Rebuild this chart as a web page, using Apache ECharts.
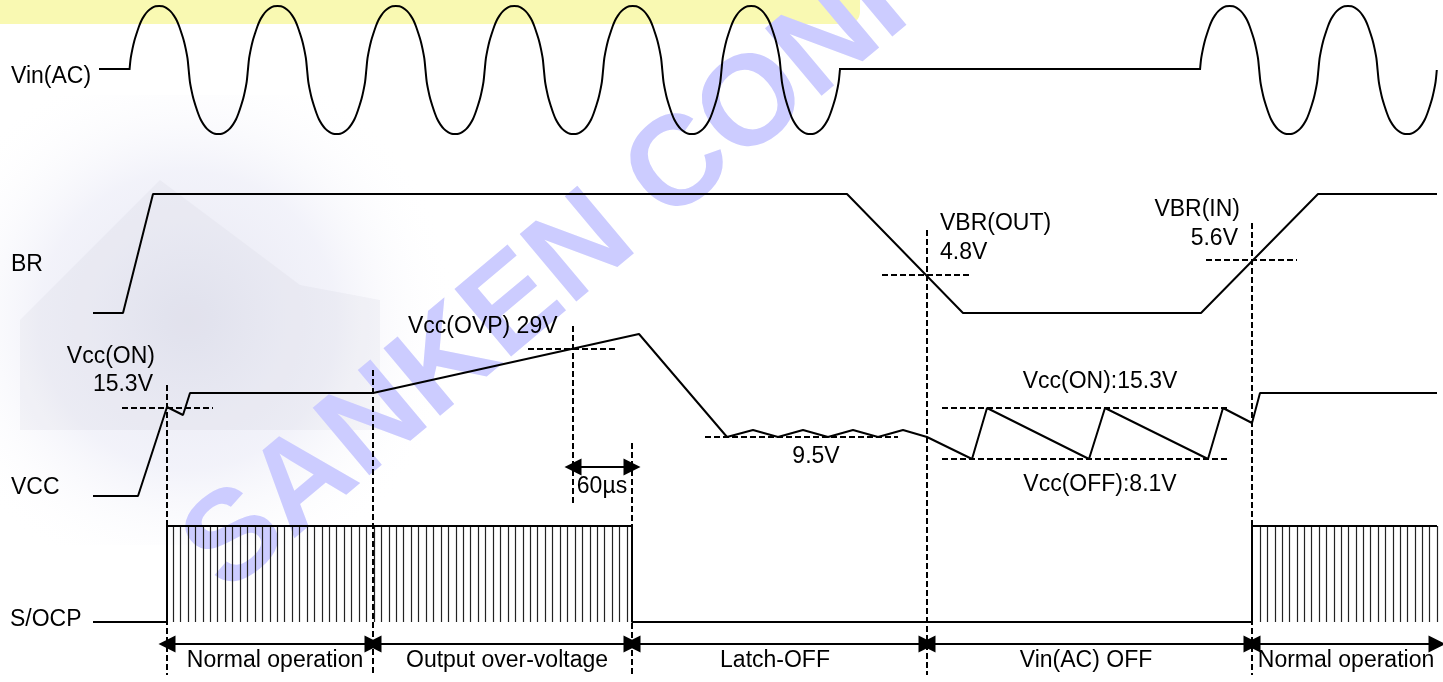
<!DOCTYPE html>
<html>
<head>
<meta charset="utf-8">
<script src="https://cdn.jsdelivr.net/npm/echarts@6/dist/echarts.min.js"></script>
<style>
  html, body { margin: 0; padding: 0; background: #fff; }
  #chart { width: 1443px; height: 682px; }
</style>
</head>
<body>
<div id="chart"></div>
<script>
// diagram units = picture px (x: time, y: level, top down)

// Vin(AC): bursts of sine (start, cycles), flat parts between
var acMid = 70, acAmp = 64, acPeriod = 118.4;
var acBursts = [[129.5, 6], [1200, 2]];
var acFlat = [[[99, 69], [129.5, 69]], [[839, 69], [1200, 69]]];
// half-cycle shape (fraction of half period, fraction of amplitude)
var acHalf = [[0, 0], [0.02, 0.18], [0.05, 0.33], [0.08, 0.45], [0.12, 0.57], [0.16, 0.68], [0.2, 0.77],
  [0.25, 0.85], [0.31, 0.92], [0.38, 0.97], [0.44, 0.995], [0.5, 1],
  [0.56, 0.995], [0.62, 0.97], [0.69, 0.92], [0.75, 0.85], [0.8, 0.77], [0.84, 0.68], [0.88, 0.57],
  [0.92, 0.45], [0.95, 0.33], [0.98, 0.18]];

var brLine = [[93, 313], [123, 313], [153, 194], [847, 194], [963, 313], [1201, 313], [1318, 194], [1437, 194]];

var vccLine = [[93, 496], [138, 496], [167, 407], [183, 415], [190, 393], [373, 393], [639, 334],
  [727, 437], [753, 430], [778, 437], [803, 430], [828, 437], [853, 430], [878, 437], [903, 430], [927, 437],
  [972, 459], [987, 408], [1089, 459], [1105, 408], [1208, 459], [1223, 408], [1252, 423], [1260, 393], [1437, 393]];

var socpLine = [[93, 622], [167, 622], [167, 526], [632, 526], [632, 622], [1252, 622], [1252, 526], [1437, 526]];
// switching pulses: [first, last, count], hanging from 526 to 622
var pulseRuns = [[173, 627, 62], [1260, 1437, 25]];
var pulseTop = 526, pulseBottom = 622;

// dashed markers
var dashV = [[167, 385, 675], [373, 370, 675], [573, 326, 503], [632, 443, 675], [927, 230, 675], [1252, 223, 675]];
var dashH = [[408, 122, 213], [349, 528, 618], [275, 882, 972], [260, 1206, 1297], [437, 705, 898], [408, 942, 1230], [459, 942, 1230]];

// double arrows [y, x1, x2]
var arrows = [[467, 573, 632], [644, 167, 373], [644, 373, 632], [644, 632, 927], [644, 927, 1252], [644, 1252, 1437]];

// texts [text, x, y, align]
var labels = [
  ['Vin(AC)', 11, 77, 'left'], ['BR', 11, 265, 'left'], ['VCC', 11, 488, 'left'], ['S/OCP', 10, 620, 'left'],
  ['Vcc(ON)', 155, 357, 'right'], ['15.3V', 153, 385, 'right'],
  ['Vcc(OVP) 29V', 408, 327, 'left'],
  ['VBR(OUT)', 940, 224, 'left'], ['4.8V', 940, 253, 'left'],
  ['VBR(IN)', 1240, 210, 'right'], ['5.6V', 1238, 239, 'right'],
  ['60µs', 602, 487, 'center'], ['9.5V', 816, 457, 'center'],
  ['Vcc(ON):15.3V', 1100, 382, 'center'], ['Vcc(OFF):8.1V', 1100, 485, 'center'],
  ['Normal operation', 275, 661, 'center'], ['Output over-voltage', 507, 661, 'center'],
  ['Latch-OFF', 775, 661, 'center'], ['Vin(AC) OFF', 1086, 661, 'center'], ['Normal operation', 1346, 661, 'center']
];

var FONT = "'Liberation Sans', Arial, sans-serif";

function acData() {
  var out = [];
  acBursts.forEach(function (b, bi) {
    if (bi > 0) out.push(null);
    var half = acPeriod / 2;
    for (var h = 0; h < b[1] * 2; h++) {
      var x0 = b[0] + h * half;
      var sgn = h % 2 === 0 ? -1 : 1;
      acHalf.forEach(function (p) {
        out.push([x0 + p[0] * half, acMid + sgn * p[1] * acAmp]);
      });
    }
    out.push([b[0] + b[1] * acPeriod, acMid]);
  });
  return out;
}

function pulseData() {
  var out = [];
  pulseRuns.forEach(function (r) {
    var step = (r[1] - r[0]) / (r[2] - 1);
    for (var i = 0; i < r[2]; i++) {
      var x = r[0] + i * step;
      out.push({ coords: [[x, pulseTop], [x, pulseBottom]] });
    }
  });
  return out;
}

var dashData = dashV.map(function (d) { return { coords: [[d[0], d[1]], [d[0], d[2]]] }; })
  .concat(dashH.map(function (d) { return { coords: [[d[1], d[0]], [d[2], d[0]]] }; }));

var chart = echarts.init(document.getElementById('chart'));

var wave = { color: '#000', width: 2 };

var option = {
  animation: false,
  backgroundColor: '#fff',
  grid: { left: 0, right: 0, top: 0, bottom: 0 },
  xAxis: { type: 'value', min: 0, max: 1443, show: false },
  yAxis: { type: 'value', min: 0, max: 682, inverse: true, show: false },
  graphic: [
    // yellow highlight band
    { type: 'rect', z: -10, shape: { x: 0, y: 0, width: 860, height: 24, r: [0, 0, 12, 0] }, style: { fill: '#f9f9b2' } },
    // faded photo behind left part
    { type: 'rect', z: -10, shape: { x: 0, y: 95, width: 470, height: 450 },
      style: { fill: new echarts.graphic.RadialGradient(0.4, 0.5, 0.6, [
        { offset: 0, color: 'rgba(205,207,228,0.5)' },
        { offset: 0.55, color: 'rgba(218,219,240,0.35)' },
        { offset: 1, color: 'rgba(255,255,255,0)' }]) } },
    { type: 'polygon', z: -9, shape: { points: [[20, 320], [160, 180], [300, 285], [380, 300], [380, 430], [20, 430]] },
      style: { fill: 'rgba(190,192,206,0.12)' } },
    // watermark
    { type: 'text', z: -5, x: 245, y: 617, rotation: 40 * Math.PI / 180,
      style: { text: 'SANKEN CONFIDENTIAL', font: 'bold 128px ' + FONT, fill: '#ccccff',
        align: 'left', verticalAlign: 'bottom' } }
  ],
  series: [
    { type: 'line', data: acFlat[0], symbol: 'none', lineStyle: wave },
    { type: 'line', data: acFlat[1], symbol: 'none', lineStyle: wave },
    { type: 'line', data: acData(), symbol: 'none', smooth: 0.3, connectNulls: false, lineStyle: wave },
    { type: 'line', data: brLine, symbol: 'none', lineStyle: wave },
    { type: 'line', data: vccLine, symbol: 'none', lineStyle: wave },
    { type: 'lines', coordinateSystem: 'cartesian2d', data: pulseData(),
      lineStyle: { color: '#222', width: 1.2, opacity: 1 } },
    { type: 'line', data: socpLine, symbol: 'none', lineStyle: wave },
    { type: 'lines', coordinateSystem: 'cartesian2d', data: dashData,
      lineStyle: { color: '#000', width: 2, type: [6, 3], opacity: 1 } },
    { type: 'lines', coordinateSystem: 'cartesian2d', symbol: ['triangle', 'triangle'], symbolSize: 17,
      data: arrows.map(function (a) { return { coords: [[a[1], a[0]], [a[2], a[0]]] }; }),
      lineStyle: { color: '#000', width: 2, opacity: 1 }, itemStyle: { color: '#000' } },
    { type: 'scatter', symbolSize: 0, z: 5, itemStyle: { opacity: 1 },
      data: labels.map(function (l) {
        return { name: l[0], value: [l[1], l[2]],
          label: { show: true, position: [0, 0], formatter: l[0], align: l[3], verticalAlign: 'middle',
            fontFamily: FONT, fontSize: 23, color: '#000', opacity: 1 } };
      }) }
  ]
};

chart.setOption(option);
</script>
</body>
</html>
